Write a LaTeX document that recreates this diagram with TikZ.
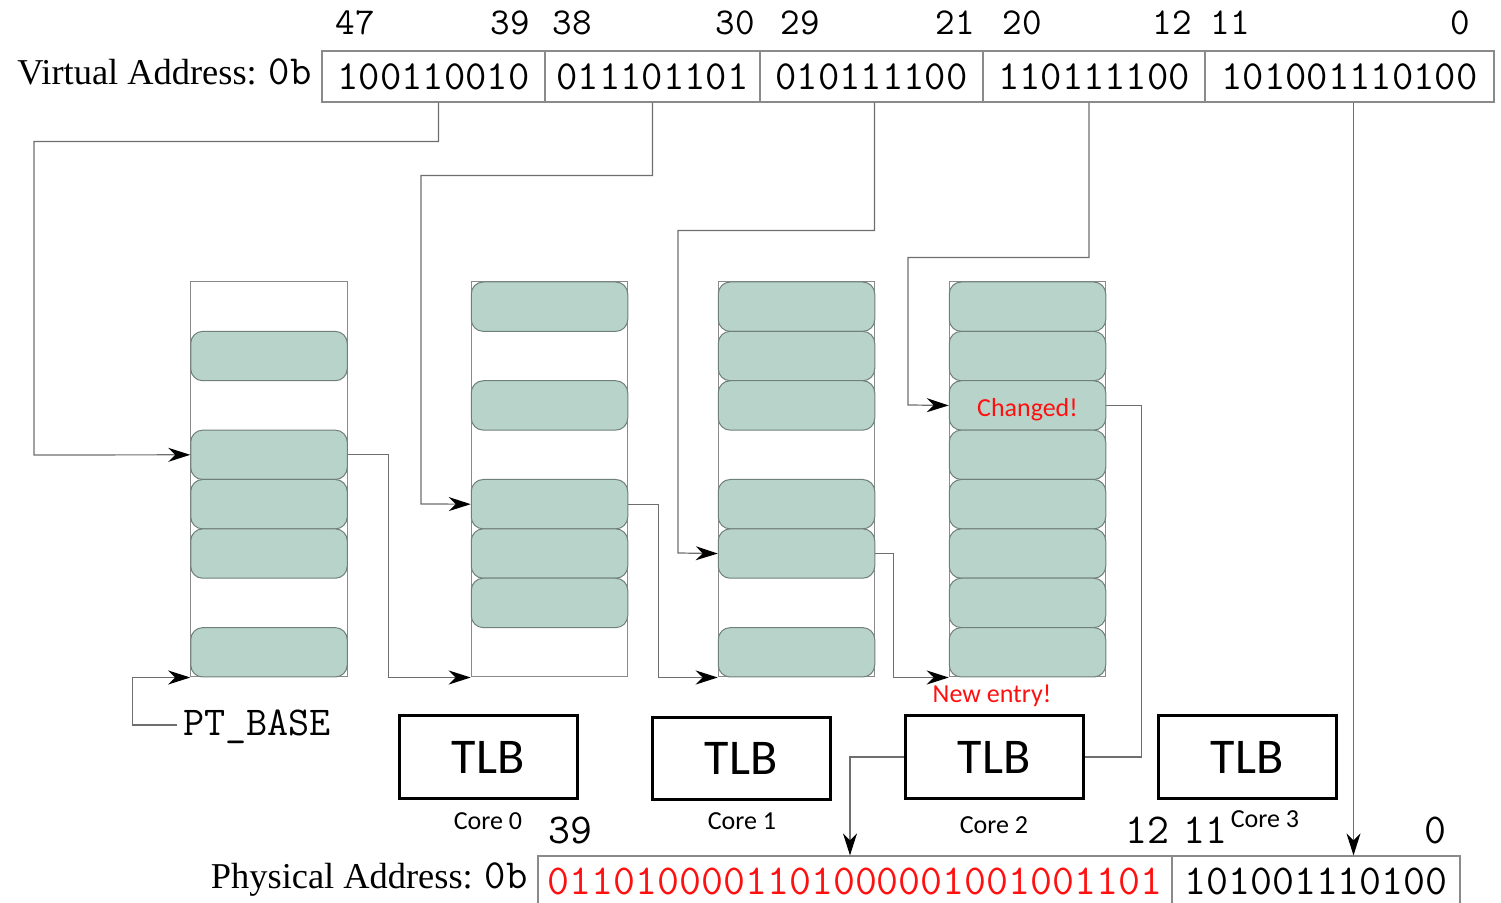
\documentclass[tikz,border=0pt]{standalone}
\usepackage{fontspec}
\setmainfont{Liberation Serif}
\newfontfamily\calib{Carlito}
\usetikzlibrary{arrows.meta}

\definecolor{linegray}{HTML}{6E6E6E}
\definecolor{boxgray}{HTML}{8A8A8A}
\definecolor{entryfill}{HTML}{B8D4CA}
\definecolor{entryline}{HTML}{6F7F79}
\definecolor{hot}{HTML}{FF1010}

\newcommand\bits{\fontsize{20.7}{22}\selectfont\ttfamily}
\newcommand\bitnum{\fontsize{19}{21}\selectfont\ttfamily}
\newcommand\padr{\fontsize{21.3}{23}\selectfont\ttfamily}
\newcommand\lbl{\fontsize{18.2}{21}\selectfont\rmfamily}
\newcommand\note{\fontsize{13}{15}\selectfont\calib}
\newcommand\tlbfont{\fontsize{25}{27}\selectfont\calib}

\begin{document}
\begin{tikzpicture}[x=0.5pt,y=-0.5pt,
  conn/.style={draw=linegray, line width=0.6pt},
  arr/.style={conn, -{Stealth[length=11pt,width=7pt,inset=3.5pt,color=black,fill=black]}},
  cell/.style={draw=boxgray, line width=0.6pt, inner sep=0pt,
               minimum height=25.5pt, minimum width=#1*0.5pt},
  pcell/.style={draw=boxgray, line width=0.6pt, inner sep=0pt,
               minimum height=25pt, minimum width=#1*0.5pt, font=\padr},
  tbl/.style={draw=boxgray, line width=0.5pt, inner sep=0pt,
              minimum width=78.25pt, minimum height=197.5pt},
  entry/.style={draw=entryline, fill=entryfill, line width=0.5pt,
                rounded corners=6pt, inner sep=0pt,
                minimum width=78.25pt, minimum height=24.6875pt},
  tlb/.style={draw=black, line width=1.5pt, inner sep=0pt,
              minimum width=89pt, minimum height=41pt, font=\tlbfont},
  core/.style={font=\note, inner sep=0pt},
  num/.style={font=\bitnum, inner sep=0pt, anchor=base}
]
\useasboundingbox (0,0) rectangle (1501,903);
\clip (0,0) rectangle (1501,903);

% ---------- virtual address ----------
\node[font=\lbl, inner sep=0pt, anchor=east] (vlab) at (312,72)
  {Virtual Address: {\bits 0b}};
\node[cell=223, font=\bits] (v1) at (433.5,76.5) {100110010};
\node[cell=215, font=\bits] (v2) at (652.5,76.5) {011101101};
\node[cell=223, font=\bits] (v3) at (871.5,76.5) {010111100};
\node[cell=222, font=\bits] (v4) at (1094,76.5) {110111100};
\node[cell=289, font=\bits] (v5) at (1349.5,76.5) {101001110100};

\foreach \n/\x in {47/355, 39/510, 38/572, 30/735, 29/800, 21/955,
                   20/1022, 12/1172, 11/1230, 0/1460}
  \node[num] (vb\n) at (\x,35) {\n};

% ---------- page-table levels ----------
\node[tbl] (t0) at (269,479.5) {};
\node[tbl] (t1) at (549.5,479.5) {};
\node[tbl] (t2) at (796.5,479.5) {};
\node[tbl] (t3) at (1027.5,479.5) {};

\foreach \t/\x/\rows in {0/269/{2,4,5,6,8}, 1/549.5/{1,3,5,6,7},
                         2/796.5/{1,2,3,5,6,8}, 3/1027.5/{1,2,3,4,5,6,7,8}}
  \foreach \r in \rows
    \node[entry] (e\t-\r) at (\x,{282+(\r-0.5)*49.375}) {};

\node[font=\note, text=hot, inner sep=0pt] (chg) at ([yshift=-2pt]e3-3) {Changed!};
\node[font=\note, text=hot, inner sep=0pt] (newe) at (992,696) {New entry!};

% ---------- PT_BASE ----------
\node[font=\fontsize{20.5}{22}\selectfont\ttfamily, inner sep=3pt] (ptb) at (257,727) {PT\_BASE};

% ---------- TLBs ----------
\node[tlb] (tlb0) at (488,757) {TLB};
\node[tlb] (tlb1) at (741,758.5) {TLB};
\node[tlb] (tlb2) at (994,757) {TLB};
\node[tlb] (tlb3) at (1247,757) {TLB};
\node[core] (c0) at (488,821) {Core 0};
\node[core] (c1) at (742,821) {Core 1};
\node[core] (c2) at (994,825) {Core 2};
\node[core] (c3) at (1265,819) {Core 3};

% ---------- physical address ----------
\node[font=\lbl, inner sep=0pt, anchor=east] (plab) at (528,880)
  {Physical Address: {\bits 0b}};
\node[pcell=634, text=hot] (p1) at (855,881) {0110100001101000001001001101};
\node[pcell=288] (p2) at (1316,881) {101001110100};
\foreach \n/\x in {39/570, 12/1147, 11/1205, 0/1435}
  \node[num, font=\padr] (pb\n) at (\x,843) {\n};

% ---------- walk ----------
\draw[arr] ([xshift=2.5pt]v1.south) -- ++(0,39) -| (34,455) -- (e0-4.west);
\draw[arr] (v2.south) -- ++(0,73) -| (421,504) -- (e1-5.west);
\draw[arr] ([xshift=1.5pt]v3.south) -- ++(0,128) -| (678,553) -- (e2-6.west);
\draw[arr] ([xshift=-2.5pt]v4.south) -- ++(0,155) -| (908,405) -- (e3-3.west);
\draw[arr] ([xshift=2pt]v5.south) -- ([xshift=2pt]v5.south |- p2.north);

\draw[arr] ([yshift=1pt]ptb.west) -- ++(-44,0) |- (t0.south west);
\draw[arr] (e0-4.east) -- ++(41,0) |- (t1.south west);
\draw[arr] (e1-5.east) -- ++(30,0) |- (t2.south west);
\draw[arr] (e2-6.east) -- ++(18,0) |- (t3.south west);
\draw[conn] (e3-3.east) -- ++(35,0) |- (tlb2.east);
\draw[arr] (tlb2.west) -| ([xshift=-2.5pt]p1.north);
\end{tikzpicture}
\end{document}
